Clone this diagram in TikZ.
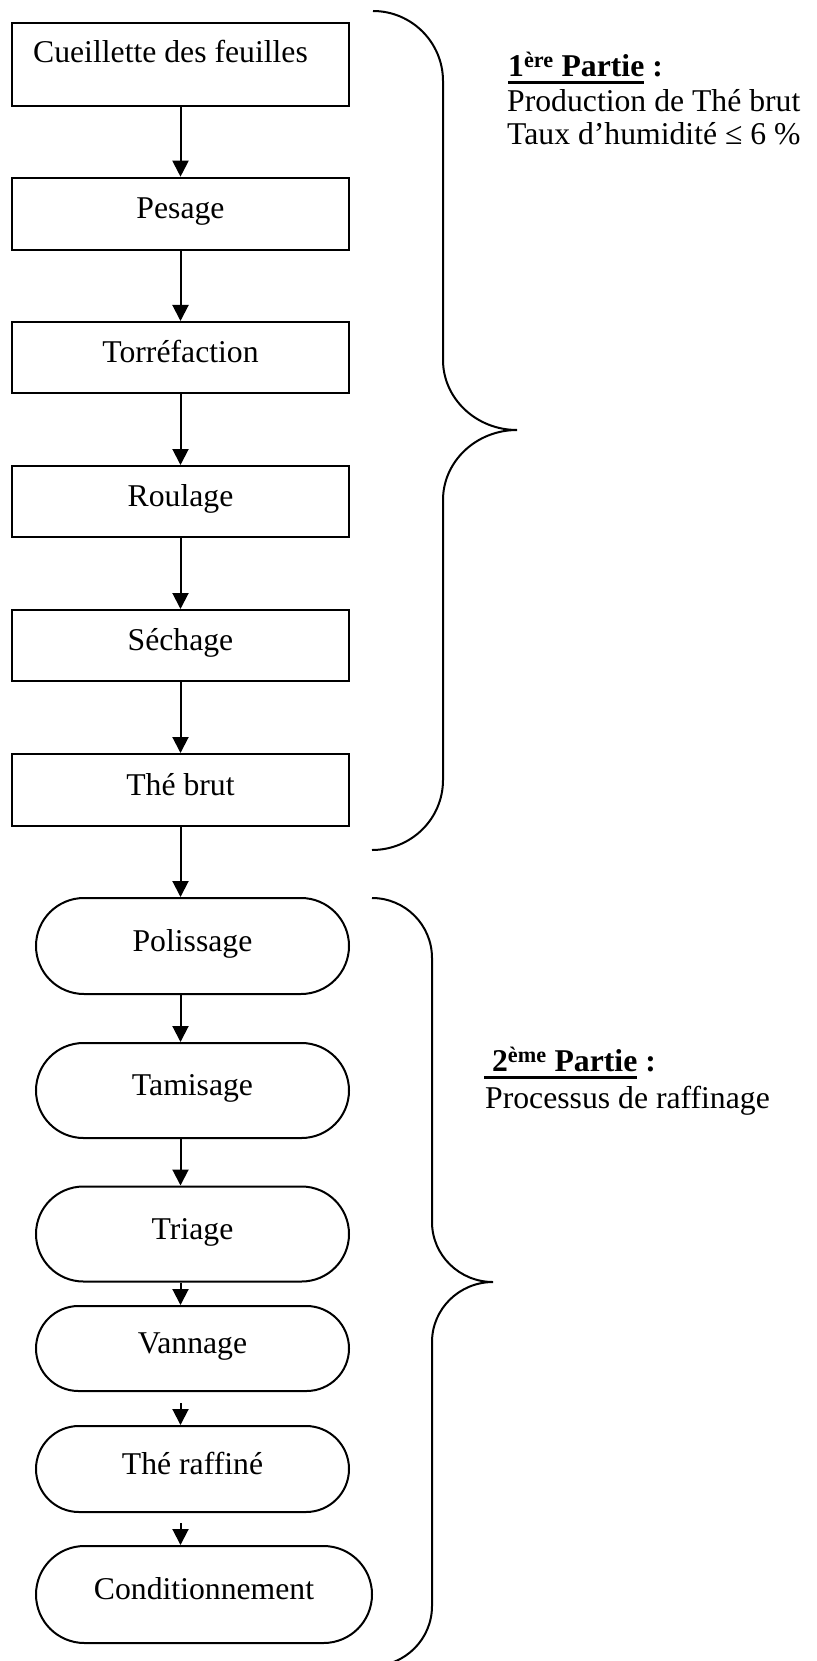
\documentclass[tikz,border=0pt]{standalone}
\usepackage{fontspec}
\setmainfont{Liberation Serif}
\usetikzlibrary{arrows.meta,shapes.misc}
\newcommand{\myul}[1]{\setbox0\hbox{#1}\rlap{\rule[-7pt]{\wd0}{3pt}}\box0\relax}
\begin{document}
\begin{tikzpicture}[x=1pt,y=-1pt,
  font=\fontsize{31.7}{38}\selectfont,
  boxtext/.style={text height=17pt, text depth=7pt},
  stepbox/.style={draw, line width=2pt, rectangle, minimum width=337pt, inner sep=0pt, boxtext},
  roundbox/.style={draw, line width=2pt, rounded rectangle, inner sep=0pt, minimum width=313pt, boxtext},
  flow/.style={line width=2pt, -{Triangle[width=16pt,length=16pt]}},
  brace/.style={line width=2pt},
  side/.style={anchor=base west, inner sep=0pt}]
\useasboundingbox (0,0) rectangle (816,1661);

% first part
\node[stepbox, minimum height=83pt] (cueil) at (180.5,64.5) {\raisebox{6.5pt}[\height][\depth]{\hspace*{-20pt}Cueillette des feuilles}};
\node[stepbox, minimum height=72pt] (pesage) at (180.5,213.7) {Pesage};
\node[stepbox, minimum height=71pt] (torre) at (180.5,357.5) {Torréfaction};
\node[stepbox, minimum height=71pt] (roul) at (180.5,501.5) {Roulage};
\node[stepbox, minimum height=71pt] (sech) at (180.5,645.5) {Séchage};
\node[stepbox, minimum height=72pt] (thebrut) at (180.5,790) {Thé brut};

% second part
\node[roundbox, minimum height=96pt] (polis) at (192.5,946) {Polissage};
\node[roundbox, minimum height=95pt] (tamis) at (192.5,1090.5) {Tamisage};
\node[roundbox, minimum height=95pt] (triage) at (192.5,1234) {Triage};
\node[roundbox, minimum height=85pt] (vann) at (192.5,1348.5) {Vannage};
\node[roundbox, minimum height=86pt] (raff) at (192.5,1469) {Thé raffiné};
\node[roundbox, minimum height=97pt, minimum width=336pt] (cond) at (204,1594.5) {Conditionnement};

\coordinate (ax) at (180.5,0);

\draw[flow] (cueil.south) -- (pesage.north);
\draw[flow] (pesage.south) -- (torre.north);
\draw[flow] (torre.south) -- (roul.north);
\draw[flow] (roul.south) -- (sech.north);
\draw[flow] (sech.south) -- (thebrut.north);
\draw[flow] (thebrut.south) -- (thebrut.south |- polis.north);
\draw[flow] (ax |- polis.south) -- (ax |- tamis.north);
\draw[flow] (ax |- tamis.south) -- (ax |- triage.north);
\draw[flow] (ax |- triage.south) -- (ax |- vann.north);
\draw[flow, shorten <=11pt] (ax |- vann.south) -- (ax |- raff.north);
\draw[flow, shorten <=10pt] (ax |- raff.south) -- (ax |- cond.north);

% braces
\draw[brace] (373,11) .. controls (411.6,11) and (443,42.4) .. (443,81)
  -- (443,360) .. controls (443,398.6) and (476.2,430) .. (517,430)
  .. controls (476.2,430) and (443,461.4) .. (443,500)
  -- (443,780) .. controls (443,818.6) and (411.6,850) .. (372,850);
\draw[brace] (372,898) .. controls (405.1,898) and (432,924.9) .. (432,958)
  -- (432,1222) .. controls (432,1255.1) and (459.3,1282) .. (493,1282)
  .. controls (459.3,1282) and (432,1308.9) .. (432,1342)
  -- (432,1606) .. controls (432,1639.1) and (405.1,1666) .. (372,1666);

% side texts
\node[side] (p1t) at (508,77) {\bfseries\myul{1\textsuperscript{ère} Partie} :};
\node[side] (p1a) at (507,111.5) {Production de Thé brut};
\node[side] (p1b) at (507,145) {Taux d’humidité ≤ 6 \%};
\node[side] (p2t) at (484,1071.7) {\bfseries\myul{\ 2\textsuperscript{ème} Partie} :};
\node[side] (p2a) at (485,1108) {Processus de raffinage};
\end{tikzpicture}
\end{document}
